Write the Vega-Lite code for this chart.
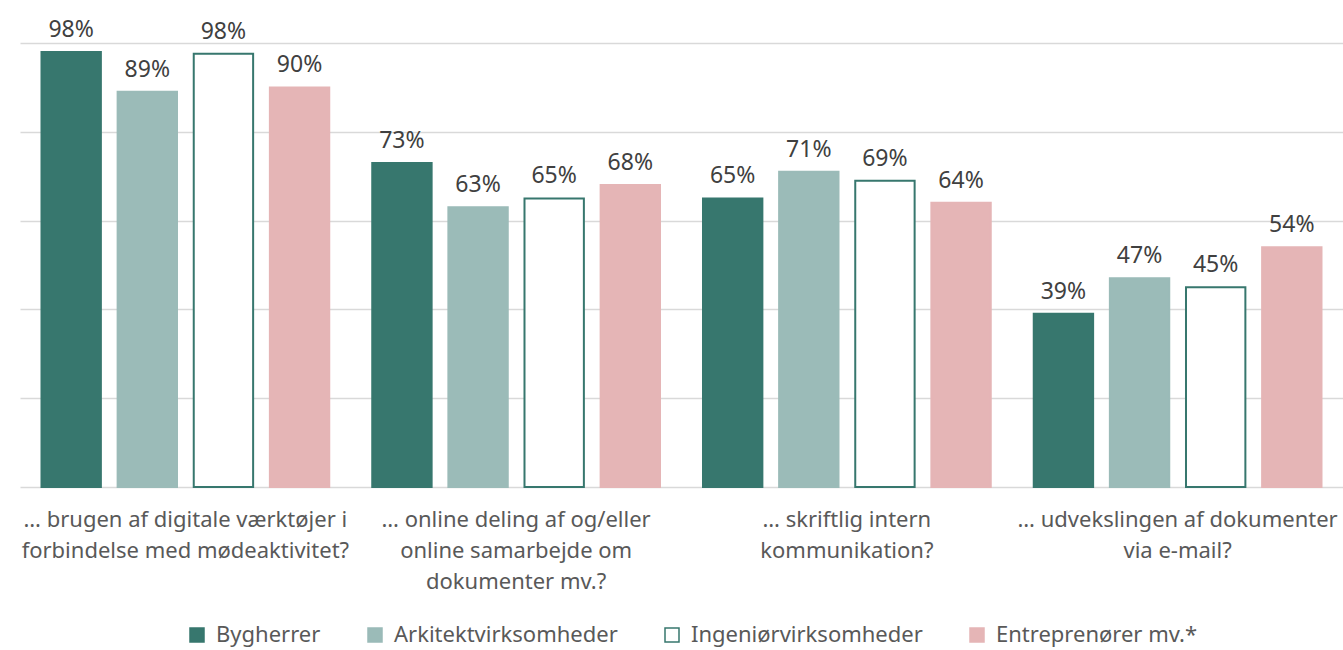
{
  "$schema": "https://vega.github.io/schema/vega-lite/v6.json",
  "width": 1323,
  "height": 444,
  "autosize": {"type": "none"},
  "padding": {"left": 20, "top": 43, "right": 0, "bottom": 163},
  "background": "white",
  "config": {"font": "Noto Sans", "view": {"stroke": null}},
  "data": {
    "values": [
      {"kategori": "… brugen af digitale værktøjer i|forbindelse med mødeaktivitet?", "serie": "Bygherrer", "andel": 0.98},
      {"kategori": "… brugen af digitale værktøjer i|forbindelse med mødeaktivitet?", "serie": "Arkitektvirksomheder", "andel": 0.89},
      {"kategori": "… brugen af digitale værktøjer i|forbindelse med mødeaktivitet?", "serie": "Ingeniørvirksomheder", "andel": 0.976},
      {"kategori": "… brugen af digitale værktøjer i|forbindelse med mødeaktivitet?", "serie": "Entreprenører mv.*", "andel": 0.90},
      {"kategori": "… online deling af og/eller|online samarbejde om|dokumenter mv.?", "serie": "Bygherrer", "andel": 0.73},
      {"kategori": "… online deling af og/eller|online samarbejde om|dokumenter mv.?", "serie": "Arkitektvirksomheder", "andel": 0.63},
      {"kategori": "… online deling af og/eller|online samarbejde om|dokumenter mv.?", "serie": "Ingeniørvirksomheder", "andel": 0.65},
      {"kategori": "… online deling af og/eller|online samarbejde om|dokumenter mv.?", "serie": "Entreprenører mv.*", "andel": 0.68},
      {"kategori": "… skriftlig intern|kommunikation?", "serie": "Bygherrer", "andel": 0.65},
      {"kategori": "… skriftlig intern|kommunikation?", "serie": "Arkitektvirksomheder", "andel": 0.71},
      {"kategori": "… skriftlig intern|kommunikation?", "serie": "Ingeniørvirksomheder", "andel": 0.69},
      {"kategori": "… skriftlig intern|kommunikation?", "serie": "Entreprenører mv.*", "andel": 0.64},
      {"kategori": "… udvekslingen af dokumenter|via e-mail?", "serie": "Bygherrer", "andel": 0.39},
      {"kategori": "… udvekslingen af dokumenter|via e-mail?", "serie": "Arkitektvirksomheder", "andel": 0.47},
      {"kategori": "… udvekslingen af dokumenter|via e-mail?", "serie": "Ingeniørvirksomheder", "andel": 0.45},
      {"kategori": "… udvekslingen af dokumenter|via e-mail?", "serie": "Entreprenører mv.*", "andel": 0.54}
    ]
  },
  "encoding": {
    "x": {
      "field": "kategori", "type": "nominal", "sort": null,
      "scale": {"paddingInner": 0.13, "paddingOuter": 0.065},
      "axis": {
        "title": null, "labelExpr": "split(datum.label, '|')", "labelAngle": 0,
        "labelFontSize": 22, "labelColor": "#595959", "labelLineHeight": 31,
        "labelPadding": 22, "ticks": false, "domain": false, "labelLimit": 0,
        "labelBaseline": "top", "grid": false
      }
    },
    "xOffset": {
      "field": "serie", "type": "nominal", "sort": null,
      "scale": {"domain": ["Bygherrer", "Arkitektvirksomheder", "Ingeniørvirksomheder", "Entreprenører mv.*"], "paddingInner": 0.22, "paddingOuter": 0}
    },
    "y": {
      "field": "andel", "type": "quantitative",
      "scale": {"domain": [0, 1]},
      "axis": {
        "title": null, "labels": false, "ticks": false, "domain": false,
        "values": [0, 0.2, 0.4, 0.6, 0.8, 1],
        "gridColor": "#d9d9d9", "gridWidth": 1.3
      }
    }
  },
  "layer": [
    {
      "mark": {"type": "bar", "strokeWidth": 2},
      "encoding": {
        "fill": {
          "field": "serie", "type": "nominal",
          "scale": {"domain": ["Bygherrer", "Arkitektvirksomheder", "Ingeniørvirksomheder", "Entreprenører mv.*"], "range": ["#37776E", "#9BBBB8", "#FFFFFF", "#E5B5B6"]},
          "legend": {
            "orient": "none", "legendX": 166, "legendY": 581, "direction": "horizontal",
            "title": null, "symbolType": "square", "symbolSize": 196, "symbolStrokeWidth": 1.5,
            "labelFontSize": 22, "labelColor": "#595959", "labelOffset": 8, "columnPadding": 43, "padding": 0, "labelLimit": 0
          }
        },
        "stroke": {
          "field": "serie", "type": "nominal",
          "scale": {"domain": ["Bygherrer", "Arkitektvirksomheder", "Ingeniørvirksomheder", "Entreprenører mv.*"], "range": ["#37776E", "#9BBBB8", "#37776E", "#E5B5B6"]},
          "legend": {
            "orient": "none", "legendX": 166, "legendY": 581, "direction": "horizontal",
            "title": null, "symbolType": "square", "symbolSize": 196, "symbolStrokeWidth": 1.5,
            "labelFontSize": 22, "labelColor": "#595959", "labelOffset": 8, "columnPadding": 43, "padding": 0, "labelLimit": 0
          }
        }
      }
    },
    {
      "mark": {"type": "text", "baseline": "alphabetic", "dy": -15, "fontSize": 23, "color": "#404040"},
      "encoding": {
        "text": {"field": "andel", "type": "quantitative", "format": ".0%"}
      }
    }
  ]
}
